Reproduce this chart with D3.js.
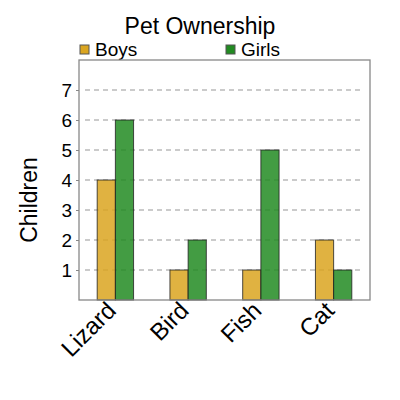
<!DOCTYPE html>
<html>
<head>
<meta charset="utf-8">
<script src="https://cdn.jsdelivr.net/npm/d3@7"></script>
<style>
  body { margin: 0; background: #fff; }
  text { font-family: "Liberation Sans", Arial, sans-serif; fill: #000; }
</style>
</head>
<body>
<script>
var pets = ["Lizard", "Bird", "Fish", "Cat"];
var boys = [4, 1, 1, 2];
var girls = [6, 2, 5, 1];
var seriesNames = ["Boys", "Girls"];
var yTicks = [1, 2, 3, 4, 5, 6, 7];

var colors = ["#daa520", "#228b22"];
var plotLeft = 79, plotRight = 370, plotTop = 60, plotBottom = 300;

var svg = d3.select("body").append("svg")
  .attr("width", 400)
  .attr("height", 400);

var x = d3.scaleBand().domain(pets).range([plotLeft, plotRight]);
var y = d3.scaleLinear().domain([0, 8]).range([plotBottom, plotTop]);

// title
svg.append("text")
  .attr("x", 200).attr("y", 34)
  .attr("text-anchor", "middle")
  .style("font-size", "23px")
  .text("Pet Ownership");

// legend
var legendX = [80, 226];
seriesNames.forEach(function(name, i) {
  svg.append("rect")
    .attr("x", legendX[i]).attr("y", 45)
    .attr("width", 9).attr("height", 9)
    .style("fill", colors[i])
    .style("stroke", "#555")
    .style("stroke-width", 1);
  svg.append("text")
    .attr("x", legendX[i] + 15).attr("y", 56)
    .style("font-size", "19px")
    .text(name);
});

// grid lines
svg.append("g").selectAll("line")
  .data(yTicks)
  .join("line")
  .attr("x1", plotLeft + 6).attr("x2", plotRight - 10)
  .attr("y1", function(d) { return y(d); })
  .attr("y2", function(d) { return y(d); })
  .style("stroke", "#bbb")
  .style("stroke-width", 1.3)
  .style("stroke-dasharray", "5,4");

// y axis ticks + labels
var yAxis = d3.axisLeft(y).tickValues(yTicks).tickSize(3).tickPadding(4);
var yg = svg.append("g")
  .attr("transform", "translate(" + plotLeft + ",0)")
  .call(yAxis);
yg.select(".domain").remove();
yg.selectAll(".tick line").style("stroke", "#888");
yg.selectAll(".tick text")
  .style("font-size", "19px")
  .style("font-family", "'Liberation Sans', Arial, sans-serif");

svg.append("text")
  .attr("transform", "translate(37,200) rotate(-90)")
  .attr("text-anchor", "middle")
  .style("font-size", "23px")
  .text("Children");

// bars
var barW = x.bandwidth() * 0.25;
var data = [boys, girls];
data.forEach(function(vals, s) {
  svg.append("g").selectAll("rect")
    .data(vals)
    .join("rect")
    .attr("x", function(d, i) { return x(pets[i]) + x.bandwidth() / 2 - barW + s * barW; })
    .attr("y", function(d) { return y(d); })
    .attr("width", barW)
    .attr("height", function(d) { return y(0) - y(d); })
    .style("fill", colors[s])
    .style("fill-opacity", 0.85)
    .style("stroke", "#222")
    .style("stroke-opacity", 0.8)
    .style("stroke-width", 1);
});

// frame
svg.append("rect")
  .attr("x", plotLeft).attr("y", plotTop)
  .attr("width", plotRight - plotLeft).attr("height", plotBottom - plotTop)
  .style("fill", "none")
  .style("stroke", "#888")
  .style("stroke-width", 1.3);

// x labels
svg.append("g").selectAll("text")
  .data(pets)
  .join("text")
  .attr("transform", function(d) {
    return "translate(" + (x(d) + x.bandwidth() / 2 + 2) + ",312) rotate(-45)";
  })
  .attr("text-anchor", "end")
  .style("font-size", "24px")
  .text(function(d) { return d; });
</script>
</body>
</html>
